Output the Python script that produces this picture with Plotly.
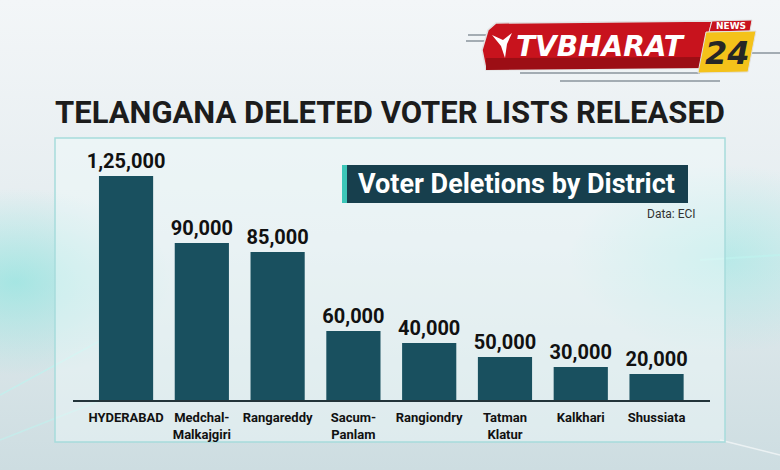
import base64
import plotly.graph_objects as go

# ---------------- data ----------------
districts = ["HYDERABAD", "Medchal-<br>Malkajgiri", "Rangareddy", "Sacum-<br>Panlam",
             "Rangiondry", "Tatman<br>Klatur", "Kalkhari", "Shussiata"]
value_labels = ["1,25,000", "90,000", "85,000", "60,000", "40,000", "50,000", "30,000", "20,000"]
# bar heights as drawn in the graphic (the graphic is not drawn to scale)
bar_heights = [125000, 87600, 82600, 38500, 31800, 24000, 18400, 14500]

W, H = 780, 470
def px(x):
    return x / W
def py(y):
    return 1 - y / H

COND = "Roboto, Liberation Sans, sans-serif"

# background as an svg gradient image
svg = f'''<svg xmlns="http://www.w3.org/2000/svg" width="{W}" height="{H}">
<defs>
<linearGradient id="g" x1="0" y1="0" x2="0" y2="1">
<stop offset="0" stop-color="#f3f6f8"/><stop offset="0.5" stop-color="#e4ecef"/><stop offset="1" stop-color="#cddde1"/>
</linearGradient>
<radialGradient id="r1" cx="0.02" cy="0.6" r="0.2">
<stop offset="0" stop-color="#7fe3dc" stop-opacity="0.6"/><stop offset="1" stop-color="#7fe3dc" stop-opacity="0"/>
</radialGradient>
<radialGradient id="r2" cx="0.93" cy="0.55" r="0.2">
<stop offset="0" stop-color="#8fe8e2" stop-opacity="0.5"/><stop offset="1" stop-color="#8fe8e2" stop-opacity="0"/>
</radialGradient>
</defs>
<rect width="{W}" height="{H}" fill="url(#g)"/>
<rect width="{W}" height="{H}" fill="url(#r1)"/>
<rect width="{W}" height="{H}" fill="url(#r2)"/>
<line x1="0" y1="395" x2="120" y2="330" stroke="#bff3ef" stroke-width="1.5" opacity="0.7"/>
<line x1="0" y1="440" x2="140" y2="385" stroke="#bff3ef" stroke-width="1.5" opacity="0.6"/>
<line x1="700" y1="260" x2="780" y2="255" stroke="#bff3ef" stroke-width="2" opacity="0.7"/>
<line x1="720" y1="440" x2="780" y2="455" stroke="#ffffff" stroke-width="1.5" opacity="0.6"/>
</svg>'''
bg_src = "data:image/svg+xml;base64," + base64.b64encode(svg.encode()).decode()

fig = go.Figure()
fig.add_trace(go.Bar(
    x=list(range(len(districts))), y=bar_heights,
    marker=dict(color="#19505f", line=dict(width=0)),
    text=value_labels, textposition="outside", cliponaxis=False, constraintext="none",
    textfont=dict(family=COND, size=20, color="#111111", weight="bold"),
    hoverinfo="skip",
))

shapes = []
# chart frame
shapes.append(dict(type="rect", xref="paper", yref="paper", layer="below",
                   x0=px(55), x1=px(725), y0=py(442), y1=py(138),
                   line=dict(color="#a6dcdc", width=1.5), fillcolor="rgba(240,250,250,0.45)"))
# subtitle box
shapes.append(dict(type="rect", xref="paper", yref="paper",
                   x0=px(342), x1=px(688), y0=py(203), y1=py(165),
                   line=dict(width=0), fillcolor="#173f4d"))
shapes.append(dict(type="rect", xref="paper", yref="paper",
                   x0=px(342), x1=px(347), y0=py(203), y1=py(165),
                   line=dict(width=0), fillcolor="#3cc6b8"))

# logo decoration lines
for (x0, y0, x1, y1) in [(468, 35, 492, 35), (466, 41, 486, 41), (700, 53, 780, 53),
                         (520, 73, 700, 73), (560, 81, 720, 81)]:
    shapes.append(dict(type="line", xref="paper", yref="paper", x0=px(x0), y0=py(y0),
                       x1=px(x1), y1=py(y1), line=dict(color="#8a959c", width=1.5)))

def path(pts):
    return "M " + " L ".join(f"{px(x):.5f},{py(y):.5f}" for x, y in pts) + " Z"

# red banner
shapes.append(dict(type="path", xref="paper", yref="paper",
                   path=path([(496, 23), (712, 21), (702, 68), (486, 70), (482, 50), (488, 30)]),
                   fillcolor="#c8131d", line=dict(color="#e2e2e2", width=1.5)))
shapes.append(dict(type="path", xref="paper", yref="paper",
                   path=path([(486, 58), (704, 57), (702, 68), (486, 70)]),
                   fillcolor="#9c0e15", line=dict(width=0)))
# NEWS tab
shapes.append(dict(type="path", xref="paper", yref="paper",
                   path=path([(712, 21), (752, 20), (750, 31), (709, 32)]),
                   fillcolor="#c8131d", line=dict(color="#e2e2e2", width=1)))
# yellow 24 box
shapes.append(dict(type="path", xref="paper", yref="paper",
                   path=path([(706, 32), (756, 31), (748, 72), (698, 73)]),
                   fillcolor="#f4c21a", line=dict(color="#e2e2e2", width=1)))
# bird glyph
shapes.append(dict(type="path", xref="paper", yref="paper",
                   path=path([(492, 35), (503, 40), (512, 33), (507, 44), (505, 58), (501, 46)]),
                   fillcolor="#ffffff", line=dict(width=0)))

annotations = [
    dict(text="TELANGANA DELETED VOTER LISTS RELEASED", x=px(390), y=py(112),
         xref="paper", yref="paper", showarrow=False, xanchor="center", yanchor="middle",
         font=dict(family=COND, size=31, color="#1c1c1c", weight="bold")),
    dict(text="Voter Deletions by District", x=px(356), y=py(184),
         xref="paper", yref="paper", showarrow=False, xanchor="left", yanchor="middle",
         font=dict(family=COND, size=27, color="#ffffff", weight="bold")),
    dict(text="Data: ECI", x=px(698), y=py(214),
         xref="paper", yref="paper", showarrow=False, xanchor="right", yanchor="middle",
         font=dict(family=COND, size=12, color="#333333")),
    dict(text="<i>TVBHARAT</i>", x=px(600), y=py(46),
         xref="paper", yref="paper", showarrow=False, xanchor="center", yanchor="middle",
         font=dict(family="DejaVu Sans, sans-serif", size=28, color="#ffffff", weight="bold")),
    dict(text="NEWS", x=px(731), y=py(26),
         xref="paper", yref="paper", showarrow=False, xanchor="center", yanchor="middle",
         font=dict(family="DejaVu Sans, sans-serif", size=9, color="#ffffff", weight="bold")),
    dict(text="<i>24</i>", x=px(727), y=py(53),
         xref="paper", yref="paper", showarrow=False, xanchor="center", yanchor="middle",
         font=dict(family="DejaVu Sans, sans-serif", size=32, color="#262626", weight="bold")),
]

baseline_px, top_px = 400, 138
y_top = bar_heights[0] * (baseline_px - top_px) / 224.0

fig.update_layout(
    width=W, height=H, margin=dict(l=0, r=0, t=0, b=0),
    paper_bgcolor="#e6eef1", plot_bgcolor="rgba(0,0,0,0)",
    showlegend=False, bargap=0.285,
    images=[dict(source=bg_src, xref="paper", yref="paper", x=0, y=1, sizex=1, sizey=1,
                 xanchor="left", yanchor="top", sizing="stretch", layer="below")],
    xaxis=dict(domain=[px(73), px(709.6)], range=[-0.7, 7.7],
               tickmode="array", tickvals=list(range(len(districts))), ticktext=districts,
               tickfont=dict(family=COND, size=13, color="#111111", weight="bold"),
               tickangle=0, ticklabelstandoff=5,
               showline=True, linecolor="#23343a", linewidth=1.5, ticks="", showgrid=False,
               zeroline=False, fixedrange=True),
    yaxis=dict(domain=[py(baseline_px), py(top_px)], range=[0, y_top], visible=False,
               showgrid=False, zeroline=False, fixedrange=True),
    shapes=shapes, annotations=annotations,
)

fig.write_html("out.html", config={"displayModeBar": False},
               post_script="document.body.style.margin='0';document.body.style.overflow='hidden';")
